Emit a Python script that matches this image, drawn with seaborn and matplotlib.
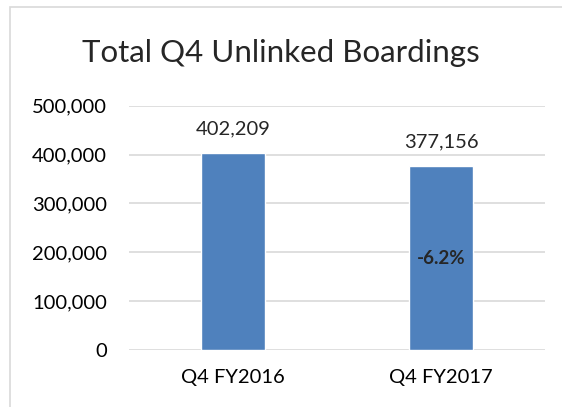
import matplotlib
matplotlib.use("Agg")
import matplotlib.pyplot as plt
import seaborn as sns
import pandas as pd
from matplotlib.ticker import FuncFormatter
from matplotlib.patches import Rectangle

quarters = ["Q4 FY2016", "Q4 FY2017"]
boardings = [402209, 377156]
change_label = "-6.2%"

df = pd.DataFrame({"quarter": quarters, "boardings": boardings})

sns.set_style("white")
plt.rcParams["font.family"] = ["Lato", "DejaVu Sans"]

fig = plt.figure(figsize=(5.62, 4.07), dpi=100)
ax = fig.add_axes([129 / 562, 1 - 350 / 407, (545 - 129) / 562, (350 - 105.7) / 407])

sns.barplot(data=df, x="quarter", y="boardings", color="#4F81BD", width=0.31,
            saturation=1, ax=ax, zorder=3)

ax.set_ylim(0, 500000)
ax.set_xlim(-0.5, 1.5)
ax.set_yticks(range(0, 500001, 100000))
ax.yaxis.set_major_formatter(FuncFormatter(lambda v, p: f"{int(v):,}"))
ax.grid(axis="y", color="#D9D9D9", linewidth=1.2, zorder=0)
for s in ax.spines.values():
    s.set_visible(False)
ax.tick_params(axis="both", length=0, labelsize=14.5, colors="black")
ax.tick_params(axis="y", pad=16)
ax.tick_params(axis="x", pad=14)
ax.set_xlabel("")
ax.set_ylabel("")

# value labels above bars
for i, v in enumerate(boardings):
    ax.text(i, v + 32000, f"{v:,}", ha="center", va="bottom", fontsize=14.5)
ax.text(1, 188000, change_label, ha="center", va="center", fontsize=13.5,
        fontweight="bold")

fig.text(0.5, 1 - 53 / 407, "Total Q4 Unlinked Boardings", ha="center",
         va="center", fontsize=22.5)

fig.patches.append(Rectangle((10 / 562, -0.1), 1.0, 1 - 7 / 407 + 0.1,
                             transform=fig.transFigure, fill=False,
                             edgecolor="#D9D9D9", linewidth=1.2))

fig.savefig("out.png", dpi=100)
